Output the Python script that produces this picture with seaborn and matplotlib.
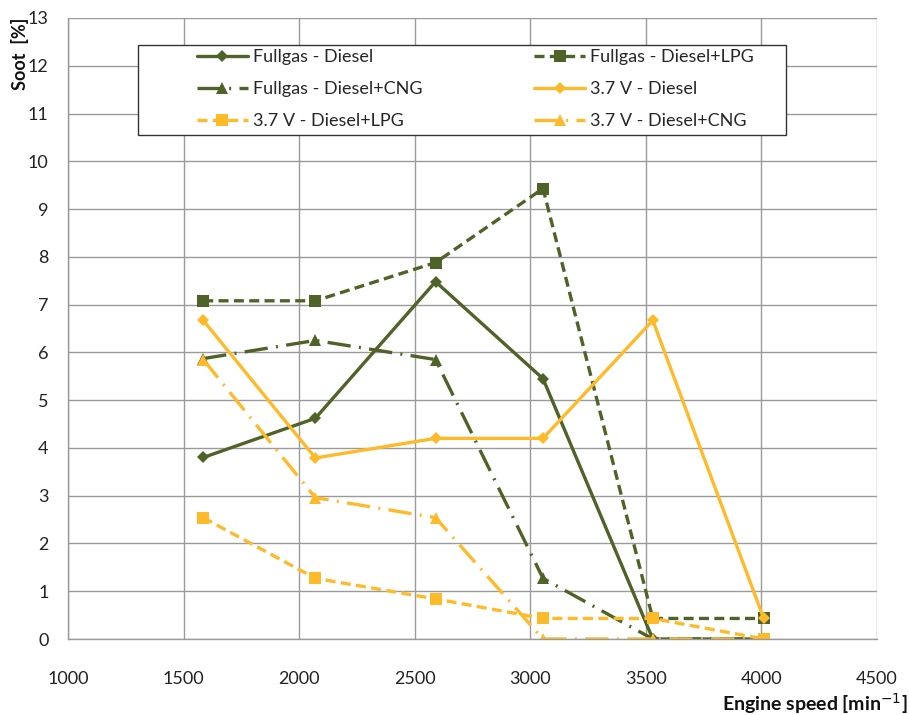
import matplotlib
matplotlib.use("Agg")
import matplotlib.pyplot as plt
import matplotlib.patches as mpatches
import seaborn as sns
import pandas as pd

sns.set_theme(style="white")
plt.rcParams['font.family'] = ['Lato', 'DejaVu Sans']

speed = [1585, 2070, 2590, 3055, 3530, 4010]
fullgas_diesel = [3.8, 4.62, 7.48, 5.45, 0.0, 0.0]
fullgas_lpg = [7.08, 7.08, 7.88, 9.43, 0.43, 0.43]
fullgas_cng = [5.87, 6.25, 5.85, 1.27, 0.0, 0.0]
v37_diesel = [6.67, 3.79, 4.2, 4.2, 6.67, 0.43]
v37_lpg = [2.54, 1.27, 0.84, 0.43, 0.43, 0.0]
v37_cng = [5.85, 2.96, 2.54, 0.0, 0.0, 0.0]

labels = ["Fullgas - Diesel", "Fullgas - Diesel+LPG", "Fullgas - Diesel+CNG",
          "3.7 V - Diesel", "3.7 V - Diesel+LPG", "3.7 V - Diesel+CNG"]
series = [fullgas_diesel, fullgas_lpg, fullgas_cng, v37_diesel, v37_lpg, v37_cng]

GREEN = "#4F6228"
YELLOW = "#FFBA2A"
colors = [GREEN, GREEN, GREEN, YELLOW, YELLOW, YELLOW]
markers = ["D", "s", "^", "D", "s", "^"]
msizes = [6, 9, 9, 6, 9, 9]
dashed = (0, (3, 1.6))
dashdot = (0, (7, 2.5, 0.6, 2.5))
dashes = ["-", dashed, dashdot, "-", dashed, dashdot]

fig = plt.figure(figsize=(9.09, 7.15), dpi=100)
ax = fig.add_axes([68 / 909, 1 - 639 / 715, (877 - 68) / 909, (639 - 18) / 715])

handles = {}
for lab, vals, c, m, ms, ls in zip(labels, series, colors, markers, msizes, dashes):
    df = pd.DataFrame({"speed": speed, "soot": vals})
    sns.lineplot(data=df, x="speed", y="soot", ax=ax, color=c, marker=m,
                 markersize=ms, markeredgewidth=0, linewidth=2.4,
                 linestyle=ls, label=lab, legend=False)
    handles[lab] = ax.lines[-1]

ax.set_xlim(1000, 4500)
ax.set_ylim(0, 13)
ax.set_xticks(range(1000, 4501, 500))
ax.set_yticks(range(0, 14, 1))
ax.grid(True, color="#9a9a9a", linewidth=1.0)
for s in ["top", "right"]:
    ax.spines[s].set_visible(False)
for s in ["left", "bottom"]:
    ax.spines[s].set_color("#9a9a9a")
    ax.spines[s].set_linewidth(1.0)
ax.tick_params(axis="both", length=0, labelsize=13, colors="#222222")
ax.tick_params(axis="x", pad=23)
ax.tick_params(axis="y", pad=14)
ax.set_xlabel("")
ax.set_ylabel("")

fig.text(0.022, 0.975, "Soot  [%]", rotation=90, ha="center", va="top",
         fontsize=13, fontweight="bold", color="#111111")
fig.text(0.998, 1 - 704 / 715, "Engine speed [min$^{-1}$]", ha="right", va="center",
         fontsize=14, fontweight="bold", color="#111111")

# legend box
box = mpatches.Rectangle((138 / 909, 1 - 135 / 715), 648 / 909, 90 / 715,
                         transform=fig.transFigure, facecolor="white",
                         edgecolor="#333333", linewidth=1.0, zorder=9, clip_on=False)
ax.add_patch(box)

order = ["Fullgas - Diesel", "Fullgas - Diesel+CNG", "3.7 V - Diesel+LPG",
         "Fullgas - Diesel+LPG", "3.7 V - Diesel", "3.7 V - Diesel+CNG"]
leg = ax.legend([handles[k] for k in order], order, ncol=2,
                loc="upper left", bbox_to_anchor=(197 / 909, 1 - 49 / 715),
                bbox_transform=fig.transFigure, frameon=False,
                fontsize=13, handlelength=2.8,
                columnspacing=6.2, borderpad=0, labelspacing=0.9,
                handletextpad=0.3, borderaxespad=0)
leg.set_zorder(10)

fig.savefig("out.png", dpi=100)
